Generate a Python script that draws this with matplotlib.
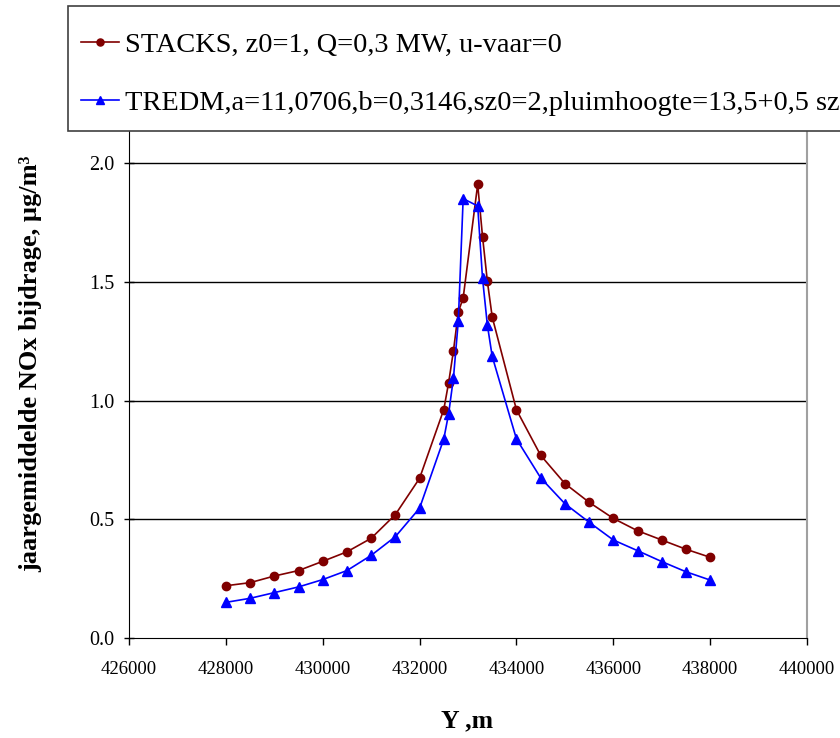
import matplotlib
matplotlib.use("Agg")
import matplotlib.pyplot as plt
from matplotlib.patches import Rectangle

plt.rcParams['font.family'] = ['Liberation Serif', 'DejaVu Serif']

y_pos = [428000, 428500, 429000, 429500, 430000, 430500, 431000, 431500, 432000,
         432500, 432600, 432700, 432800, 432900, 433200, 433300, 433400, 433500,
         434000, 434500, 435000, 435500, 436000, 436500, 437000, 437500, 438000]

stacks = [0.219, 0.232, 0.260, 0.283, 0.322, 0.362, 0.419, 0.519, 0.672,
          0.962, 1.075, 1.210, 1.373, 1.432, 1.911, 1.691, 1.502, 1.352,
          0.961, 0.769, 0.650, 0.571, 0.503, 0.451, 0.412, 0.373, 0.339]

tredm = [0.149, 0.166, 0.190, 0.214, 0.245, 0.283, 0.347, 0.426, 0.546,
         0.838, 0.944, 1.096, 1.335, 1.851, 1.820, 1.515, 1.318, 1.186,
         0.838, 0.674, 0.565, 0.487, 0.412, 0.367, 0.321, 0.278, 0.243]

label_stacks = "STACKS, z0=1, Q=0,3 MW, u-vaar=0"
label_tredm = "TREDM,a=11,0706,b=0,3146,sz0=2,pluimhoogte=13,5+0,5 sz"

x_ticks = [426000, 428000, 430000, 432000, 434000, 436000, 438000, 440000]
y_ticks = [0.0, 0.5, 1.0, 1.5, 2.0]
y_ticklabels = ["0.0", "0.5", "1.0", "1.5", "2.0"]

W, H = 840, 738
fig = plt.figure(figsize=(W / 100, H / 100), dpi=100)

def fx(px):
    return px / W

def fy(py):
    return 1 - py / H

left, right = 129, 807
bottom, top = 637.7, 44.7
ax = fig.add_axes([fx(left), fy(bottom), fx(right - left), (bottom - top) / H])

ax.plot(y_pos, stacks, color='#800000', marker='o', markersize=6, linewidth=1.2,
        label=label_stacks, zorder=3)
ax.plot(y_pos, tredm, color='#0000FF', marker='^', markersize=7, linewidth=1.2,
        label=label_tredm, zorder=3)

ax.set_xlim(426000, 440000)
ax.set_ylim(0, 2.5)
ax.set_xticks(x_ticks)
ax.set_xticklabels([str(v) for v in x_ticks], fontsize=13.5)
ax.set_yticks(y_ticks)
ax.set_yticklabels(y_ticklabels, fontsize=14.5)
ax.tick_params(axis='y', direction='inout', length=7.5, width=1, pad=7)
ax.tick_params(axis='x', direction='out', length=5, width=1, pad=12)

for v in y_ticks[1:]:
    ax.axhline(v, color='black', linewidth=1.0, zorder=1)

ax.spines['top'].set_visible(False)
ax.spines['right'].set_color('#a0a0a0')
ax.spines['right'].set_linewidth(1.5)
ax.spines['left'].set_color('black')
ax.spines['bottom'].set_color('black')

fig.text(fx(467), fy(721), "Y ,m", fontsize=18.5, fontweight='bold', ha='center', va='center')
fig.text(fx(31), fy(364), "jaargemiddelde NOx bijdrage, µg/m³", fontsize=19, fontweight='bold',
         rotation=90, ha='center', va='center')

# legend box
rect = Rectangle((fx(68), fy(131)), fx(845 - 68), (131 - 6) / H, transform=fig.transFigure,
                 facecolor='white', edgecolor='#404040', linewidth=1.2, zorder=10)
fig.patches.append(rect)

handles, labels = ax.get_legend_handles_labels()
leg = fig.legend(handles, labels, loc='upper left', bbox_to_anchor=(fx(75), fy(26)),
                 frameon=False, fontsize=20.4, handlelength=1.35, handletextpad=0.23,
                 labelspacing=1.15, borderpad=0.2, borderaxespad=0, markerscale=0.85)
leg.set_zorder(11)

fig.savefig("out.png", dpi=100)
